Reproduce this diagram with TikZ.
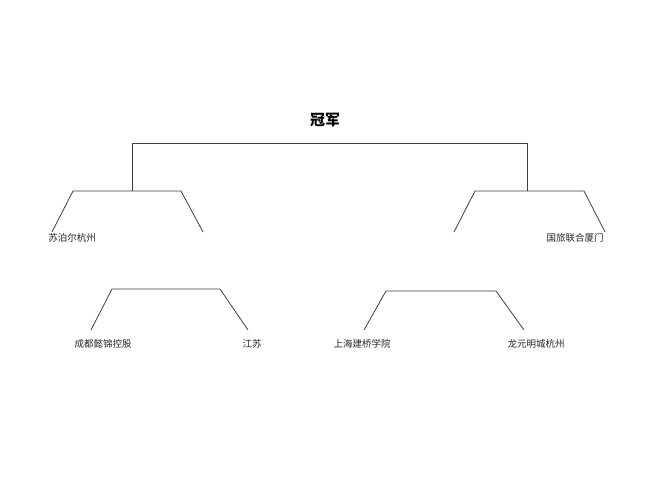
\documentclass[tikz,border=0pt]{standalone}
\usepackage{fontspec}
\setmainfont{Noto Sans CJK SC}
\begin{document}
\begin{tikzpicture}[x=1pt,y=-1pt,
  ln/.style={draw=black!75,line width=0.8pt},
  lbl/.style={font=\fontsize{9.5}{11}\selectfont,text=black!85,inner sep=0pt},
  ttl/.style={font=\bfseries\fontsize{15}{18}\selectfont,inner sep=0pt}]
\useasboundingbox[fill=white] (0,0) rectangle (650,499);
\node[ttl] (t) at (325,120) {冠军};
\coordinate (hl) at (132,143); \coordinate (hr) at (527,143);
\coordinate (vl) at (132,191); \coordinate (vr) at (527,191);
\draw[ln] (vl) -- (hl) -- (hr) -- (vr);
% upper left
\coordinate (a1) at (52,232); \coordinate (a2) at (73,191); \coordinate (a3) at (181,191); \coordinate (a4) at (203,232);
\draw[ln] (a1) -- (a2) -- (a3) -- (a4);
% upper right
\coordinate (b1) at (454,232); \coordinate (b2) at (475,191); \coordinate (b3) at (584,191); \coordinate (b4) at (605,232);
\draw[ln] (b1) -- (b2) -- (b3) -- (b4);
\node[lbl] (l1) at (72,238) {苏泊尔杭州};
\node[lbl] (l2) at (575,238) {国旅联合厦门};
% lower left
\coordinate (c1) at (91,330); \coordinate (c2) at (112,289); \coordinate (c3) at (220,289); \coordinate (c4) at (248,330);
\draw[ln] (c1) -- (c2) -- (c3) -- (c4);
% lower right
\coordinate (d1) at (364,330); \coordinate (d2) at (386,291); \coordinate (d3) at (496,291); \coordinate (d4) at (524,330);
\draw[ln] (d1) -- (d2) -- (d3) -- (d4);
\node[lbl] (m1) at (103,344) {成都懿锦控股};
\node[lbl] (m2) at (252,344) {江苏};
\node[lbl] (m3) at (362,344) {上海建桥学院};
\node[lbl] (m4) at (536,344) {龙元明城杭州};
\end{tikzpicture}
\end{document}
